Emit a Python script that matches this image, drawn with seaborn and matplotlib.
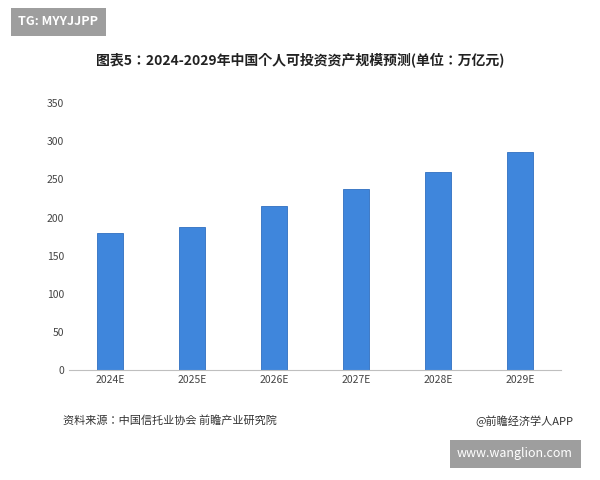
import matplotlib.pyplot as plt
from matplotlib import font_manager
import pandas as pd
import seaborn as sns

years = ["2024E", "2025E", "2026E", "2027E", "2028E", "2029E"]
values = [180, 188, 215, 237, 260, 286]
yticks = [0, 50, 100, 150, 200, 250, 300, 350]

df = pd.DataFrame({"year": years, "value": values})

# pick whichever CJK family is registered
names = sorted({f.name for f in font_manager.fontManager.ttflist})
cjk = [n for n in names if "CJK" in n] + [n for n in names if "Noto Sans SC" in n or "Droid" in n]
sns.set_style("white")
plt.rcParams["font.family"] = "sans-serif"
plt.rcParams["font.sans-serif"] = cjk + ["DejaVu Sans"]

fig = plt.figure(figsize=(6, 4.8), dpi=100)
ax = fig.add_axes([0.115, 0.229, 0.82, 0.556])
sns.barplot(data=df, x="year", y="value", color="#3f86dc", width=0.32, ax=ax, saturation=1,
            edgecolor="#2f6fc0", linewidth=0.6)
ax.set_ylim(0, 350)
ax.set_yticks(yticks)
ax.set_xlabel("")
ax.set_ylabel("")
ax.tick_params(axis="both", labelsize=7.5, colors="#444444", length=0)
for s in ["top", "right", "left"]:
    ax.spines[s].set_visible(False)
ax.spines["bottom"].set_color("#bfbfbf")

fig.text(0.5, 0.875, "图表5：2024-2029年中国个人可投资资产规模预测(单位：万亿元)",
         ha="center", va="center", fontsize=10, fontweight="bold", color="#222222")
fig.text(0.105, 0.123, "资料来源：中国信托业协会 前瞻产业研究院", ha="left", va="center",
         fontsize=8, color="#333333")
fig.text(0.955, 0.123, "@前瞻经济学人APP", ha="right", va="center", fontsize=8, color="#333333")
fig.text(0.03, 0.955, "TG: MYYJJPP", ha="left", va="center", fontsize=9, color="white",
         fontweight="bold", bbox=dict(facecolor="#9e9e9e", edgecolor="none", boxstyle="square,pad=0.6"))
fig.text(0.955, 0.055, "www.wanglion.com", ha="right", va="center", fontsize=9, color="white",
         bbox=dict(facecolor="#9e9e9e", edgecolor="none", boxstyle="square,pad=0.6"))

fig.savefig("out.png", dpi=100)
